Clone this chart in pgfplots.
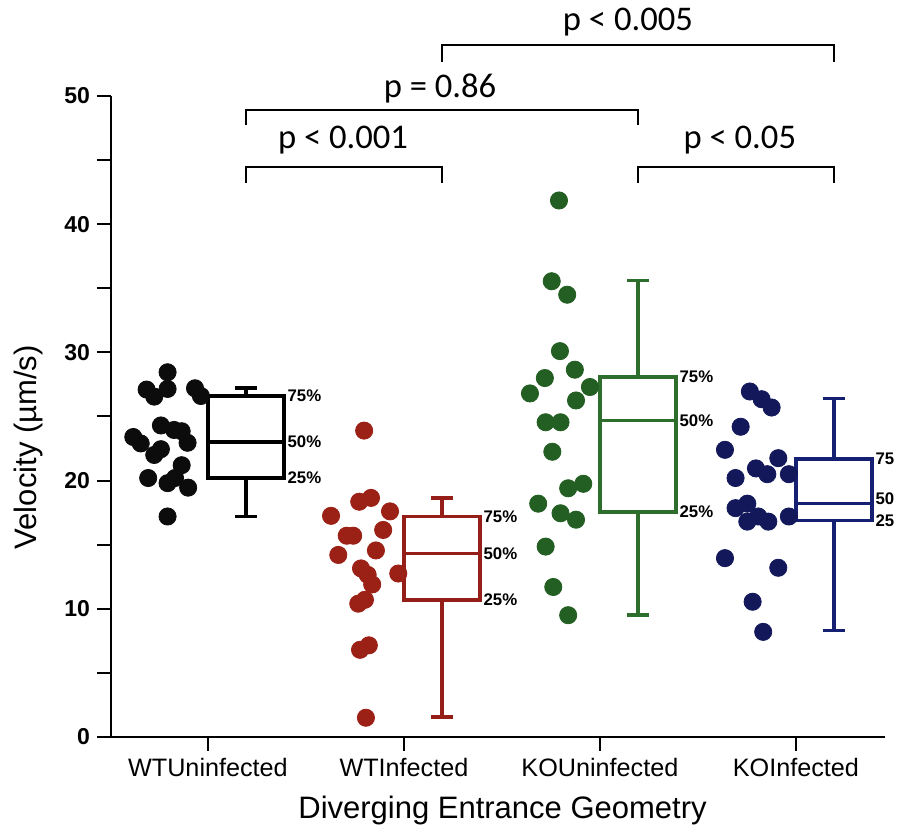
\documentclass[border=0pt]{standalone}
\usepackage{pgfplots}
\pgfplotsset{compat=1.18}
\usepackage{fontspec}
\setmainfont{Liberation Sans}
\newfontfamily\calibri{Carlito}
\definecolor{cblack}{RGB}{12,12,12}
\definecolor{cred}{RGB}{155,32,22}
\definecolor{cgreen}{RGB}{35,95,35}
\definecolor{cnavy}{RGB}{18,24,90}
\definecolor{bred}{RGB}{150,30,25}
\definecolor{bgreen}{RGB}{45,110,45}
\definecolor{bnavy}{RGB}{22,32,115}

\pgfplotstableread{
x y
-0.206 28.45
-0.313 27.1
-0.206 27.15
-0.274 26.55
-0.066 27.2
-0.036 26.6
-0.240 24.3
-0.173 23.95
-0.134 23.85
-0.381 23.4
-0.343 22.9
-0.104 22.95
-0.240 22.45
-0.274 22.0
-0.134 21.2
-0.305 20.2
-0.168 20.2
-0.206 19.8
-0.101 19.45
-0.206 17.2
}\wtu
\pgfplotstableread{
x y
0.797 23.9
0.772 18.35
0.832 18.65
0.628 17.25
0.929 17.6
0.708 15.7
0.741 15.7
0.894 16.15
0.665 14.2
0.857 14.55
0.781 13.15
0.815 12.65
0.838 11.9
0.971 12.75
0.767 10.4
0.801 10.7
0.776 6.8
0.821 7.15
0.806 1.5
}\wti
\pgfplotstableread{
x y
1.791 41.85
1.754 35.55
1.833 34.5
1.796 30.1
1.872 28.65
1.719 28.0
1.643 26.8
1.949 27.3
1.878 26.25
1.723 24.55
1.799 24.55
1.757 22.25
1.838 19.4
1.915 19.75
1.685 18.2
1.799 17.45
1.878 16.95
1.723 14.85
1.762 11.7
1.838 9.5
}\kou
\pgfplotstableread{
x y
2.765 26.95
2.825 26.35
2.876 25.7
2.718 24.2
2.638 22.4
2.910 21.75
2.796 20.95
2.854 20.5
2.692 20.2
2.964 20.5
2.752 18.2
2.692 17.85
2.808 17.2
2.752 16.8
2.859 16.8
2.964 17.2
2.638 13.95
2.910 13.2
2.779 10.55
2.833 8.2
}\koi

% box: colour, pos, lower whisker, q1, median, q3, upper whisker
\newcommand{\drawbox}[7]{%
  \addplot[draw=#1, line width=1.8pt, line join=miter] coordinates {(#2,#4) (#2+0.388,#4) (#2+0.388,#6) (#2,#6)} --cycle;
  \addplot[draw=#1, line width=1.8pt] coordinates {(#2,#5) (#2+0.388,#5)};
  \addplot[draw=#1, line width=1.6pt] coordinates {(#2+0.194,#6) (#2+0.194,#7)};
  \addplot[draw=#1, line width=1.6pt] coordinates {(#2+0.194,#4) (#2+0.194,#3)};
  \addplot[draw=#1, line width=1.8pt] coordinates {(#2+0.139,#7) (#2+0.249,#7)};
  \addplot[draw=#1, line width=1.8pt] coordinates {(#2+0.139,#3) (#2+0.249,#3)};
}

\begin{document}
\begin{tikzpicture}
\begin{axis}[
  scale only axis, width=387pt, height=320.5pt,
  xmin=-0.495, xmax=3.454, ymin=0, ymax=50,
  axis lines*=left,
  axis line style={line width=1.2pt, black},
  xtick={0,1,2,3},
  xticklabels={WTUninfected,WTInfected,KOUninfected,KOInfected},
  ytick={0,10,20,30,40,50},
  minor ytick={5,15,25,35,45},
  tick align=outside,
  major tick length=7pt, minor tick length=7pt,
  tick style={line width=1pt, black},
  /pgf/number format/assume math mode=true,
  xticklabel style={font=\fontsize{12.6}{14}\selectfont},
  yticklabel style={font=\fontsize{11.5}{13}\selectfont\bfseries},
  xlabel={Diverging Entrance Geometry},
  ylabel={Velocity (µm/s)},
  label style={font=\fontsize{15.5}{18}\selectfont},
  xlabel style={at={(axis description cs:0.506,-0.114)}, anchor=center},
  ylabel style={at={(axis description cs:-0.107,0.452)}, anchor=center},
  clip=false,
]
\addplot[only marks, mark=*, mark size=4.3pt, draw=cblack, fill=cblack] table[x=x,y=y] {\wtu};
\addplot[only marks, mark=*, mark size=4.3pt, draw=cred, fill=cred] table[x=x,y=y] {\wti};
\addplot[only marks, mark=*, mark size=4.3pt, draw=cgreen, fill=cgreen] table[x=x,y=y] {\kou};
\addplot[only marks, mark=*, mark size=4.3pt, draw=cnavy, fill=cnavy] table[x=x,y=y] {\koi};

\drawbox{black}{0}{17.2}{20.2}{23.0}{26.6}{27.2}
\drawbox{bred}{1}{1.55}{10.7}{14.3}{17.2}{18.65}
\drawbox{bgreen}{2}{9.5}{17.55}{24.7}{28.1}{35.6}
\drawbox{bnavy}{3}{8.3}{16.9}{18.2}{21.7}{26.4}

\begin{scope}[every node/.style={font=\fontsize{8.4}{9}\selectfont\bfseries, anchor=west, inner sep=0pt, xshift=1.6pt}]
\node at (axis cs:0.388,26.6) {75\%};
\node at (axis cs:0.388,23.0) {50\%};
\node at (axis cs:0.388,20.2) {25\%};
\node at (axis cs:1.388,17.2) {75\%};
\node at (axis cs:1.388,14.3) {50\%};
\node at (axis cs:1.388,10.7) {25\%};
\node at (axis cs:2.388,28.1) {75\%};
\node at (axis cs:2.388,24.7) {50\%};
\node at (axis cs:2.388,17.55) {25\%};
\node at (axis cs:3.388,21.7) {75};
\node at (axis cs:3.388,18.6) {50};
\node at (axis cs:3.388,16.9) {25};
\end{scope}

\draw[line width=1pt] (axis cs:0.194,43.2) -- (axis cs:0.194,44.46) -- (axis cs:1.194,44.46) -- (axis cs:1.194,43.2);
\draw[line width=1pt] (axis cs:2.194,43.2) -- (axis cs:2.194,44.46) -- (axis cs:3.194,44.46) -- (axis cs:3.194,43.2);
\draw[line width=1pt] (axis cs:0.194,47.7) -- (axis cs:0.194,48.9) -- (axis cs:2.194,48.9) -- (axis cs:2.194,47.7);
\draw[line width=1pt] (axis cs:1.194,52.65) -- (axis cs:1.194,54.0) -- (axis cs:3.194,54.0) -- (axis cs:3.194,52.65);
\begin{scope}[every node/.style={font=\calibri\fontsize{17.3}{20}\selectfont, anchor=center, inner sep=0pt}]
\node at (axis cs:0.689,46.57) {p < 0.001};
\node at (axis cs:2.714,46.57) {p < 0.05};
\node at (axis cs:1.184,50.6) {p = 0.86};
\node at (axis cs:2.143,55.77) {p < 0.005};
\end{scope}

\coordinate (BL) at (axis cs:-1.061,-7.49);
\coordinate (TR) at (axis cs:3.526,57.49);
\end{axis}
\pgfresetboundingbox
\useasboundingbox (BL) rectangle (TR);
\end{tikzpicture}
\end{document}
